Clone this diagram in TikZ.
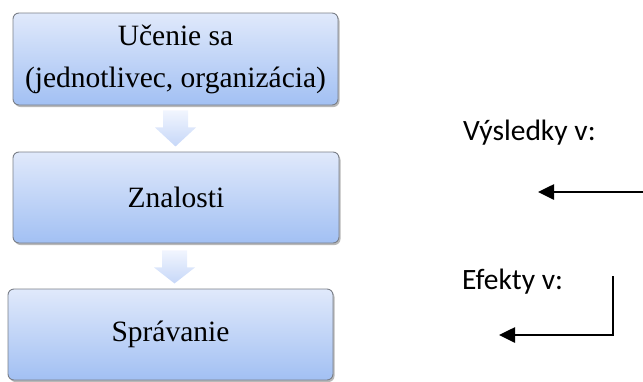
\documentclass[tikz,border=0pt]{standalone}
\usepackage{fontspec}
\setmainfont{Liberation Serif}
\newfontfamily\calibrilike{Carlito}
\usetikzlibrary{arrows.meta,shadows,calc}

\definecolor{boxtop}{HTML}{E0E9FB}
\definecolor{boxbottom}{HTML}{A2C0F3}
\definecolor{boxline}{HTML}{7A7F88}
\definecolor{flowtop}{HTML}{F1F5FE}
\definecolor{flowbottom}{HTML}{C6D7F8}

\tikzset{
  stagebox/.style={draw=boxline, line width=0.9pt, rounded corners=6pt,
    top color=boxtop, bottom color=boxbottom,
    minimum width=325pt, minimum height=91pt, inner sep=0pt,
    align=center, font=\fontsize{29.5}{42}\selectfont,
    drop shadow={shadow xshift=1.5pt, shadow yshift=-2pt, fill=black, opacity=0.28}},
  flowarrow/.style={top color=flowtop, bottom color=flowbottom, draw=none},
  sidelabel/.style={inner sep=0pt, anchor=base west,
    font=\calibrilike\fontsize{29.5}{35}\selectfont},
  leadline/.style={line width=2.6pt, -{Triangle[length=16pt,width=15pt]}}
}

% wide down-pointing block arrow: #1 top-centre, stem length #2, head length #3
\newcommand\fatarrow[3]{%
  \path[flowarrow] ($#1+(-12.5pt,0)$) -- ++(25pt,0) -- ++(0,-#2)
    -- ++(8pt,0) -- ++(-20.5pt,-#3) -- ++(-20.5pt,#3) -- ++(8pt,0) -- cycle;}

\begin{document}
\begin{tikzpicture}[x=1pt,y=-1pt]
  \useasboundingbox (0,0) rectangle (643,381);

  % stages
  \node[stagebox, minimum height=92pt] (learn) at (175.5,59) {Učenie sa\\(jednotlivec, organizácia)};
  \node[stagebox, minimum width=326pt] (know) at (176,197.5) {Znalosti};
  \node[stagebox] (behave) at (170.5,334.5) {Správanie};

  % flow between stages
  \fatarrow{($(learn.south)+(0,5)$)}{17pt}{19pt}
  \fatarrow{($(know.south)+(-1.5,7)$)}{17pt}{16pt}

  % outcome labels
  \node[sidelabel] (results) at (463,140) {Výsledky v:};
  \node[sidelabel] (effects) at (462,289) {Efekty v:};

  % pointers
  \coordinate (r1) at (643,192);
  \coordinate (r2) at (538,192);
  \draw[leadline] (r1) -- (r2);

  \coordinate (e1) at (613,276);
  \coordinate (e2) at (499,335);
  \draw[leadline] (e1) |- (e2);
\end{tikzpicture}
\end{document}
